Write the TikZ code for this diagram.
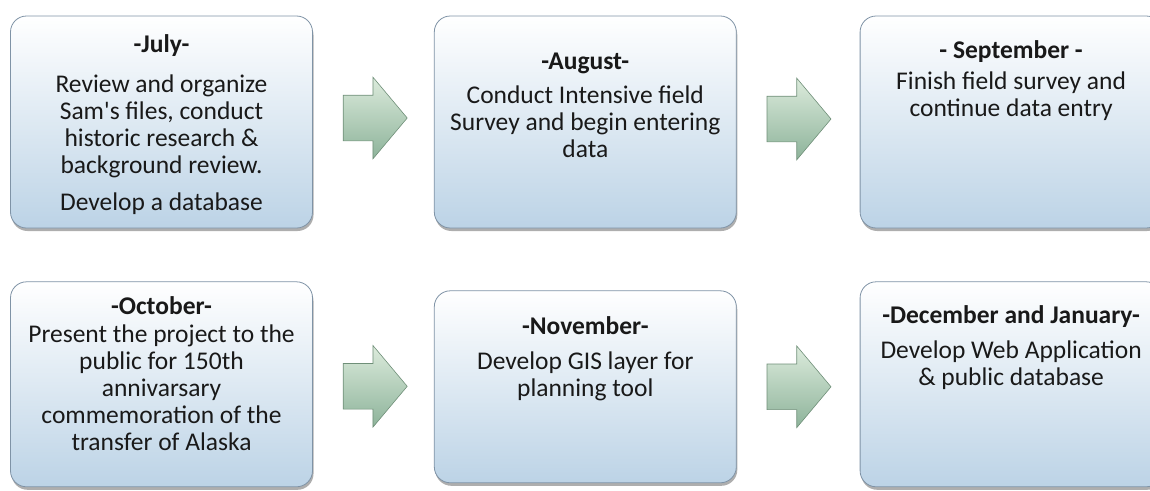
\documentclass[tikz,border=0pt]{standalone}
\usepackage{fontspec}
\setmainfont{Carlito}
\usetikzlibrary{shapes,shapes.arrows,calc,positioning,shadows}
\definecolor{boxbottom}{HTML}{BCD3E6}
\definecolor{boxline}{HTML}{7F93A6}
\definecolor{arrowtop}{HTML}{DCEBDC}
\definecolor{arrowbottom}{HTML}{8DB39A}
\definecolor{arrowline}{HTML}{6F8F78}
\tikzset{
    month/.style={rectangle, draw=boxline, line width=0.8pt, rounded corners=16pt,
    top color=white, bottom color=boxbottom, minimum width=302pt, minimum height=212pt,
    drop shadow={shadow xshift=1pt, shadow yshift=-3pt, opacity=0.45, fill=black!70}},
    monthtext/.style={align=center, inner sep=0pt, text=black!90,
    font=\fontsize{25.5}{27}\selectfont},
    nextarrow/.style={single arrow, draw=arrowline, line width=0.6pt,
    top color=arrowtop, bottom color=arrowbottom, inner xsep=0pt, inner ysep=22.5pt,
    minimum height=64pt, single arrow head extend=18pt,
    single arrow tip angle=100}
}

\begin{document}
\begin{tikzpicture}[x=1pt, y=-1pt]
		  \useasboundingbox (0,0) rectangle (1150,490);

		  \node[month] (A) at (161.5,122) {};
		  \node[month, right=121pt of A] (B) {};
		  \node[month, right=123pt of B] (C) {};
		  \node[month, minimum height=205pt, below=53pt of A] (D) {};
		  \node[month, minimum height=192pt, below=62pt of B] (E) {};
		  \node[month, minimum height=205pt, below=53pt of C] (F) {};

		  \node[monthtext, below=19pt of A.north] (a) {{\bfseries -July-}\\[13pt]
		    Review and organize\\ Sam\textquotesingle s files, conduct\\ historic research \&\\
		    background review.\\[10pt] Develop a database};
		  \node[monthtext, below=37pt of B.north] (b) {{\bfseries -August-}\\[7pt]
		    Conduct Intensive field\\ Survey and begin entering\\ data};
		  \node[monthtext, below=25pt of C.north] (c) {{\bfseries - September -}\\[4pt]
		    Finish field survey and\\ continue data entry};
		  \node[monthtext, below=15pt of D.north] (d) {{\bfseries -October-}\\[1pt]
		    Present the project to the\\ public for 150th\\ annivarsary\\
		    commemoration of the\\ transfer of Alaska};
		  \node[monthtext, below=26pt of E.north] (e) {{\bfseries -November-}\\[8pt]
		    Develop GIS layer for\\ planning tool};
		  \node[monthtext, below=24pt of F.north] (f) {{\bfseries -December and January-}\\[8pt]
		    Develop Web Application\\ \& public database};

		  \node[nextarrow, right=30pt of A, yshift=4pt] (AB) {};
		  \node[nextarrow, right=30pt of B, yshift=3pt] (BC) {};
		  \node[nextarrow, right=30pt of D, yshift=-2pt] (DE) {};
		  \node[nextarrow, right=30pt of E] (EF) {};
\end{tikzpicture}
\end{document}
